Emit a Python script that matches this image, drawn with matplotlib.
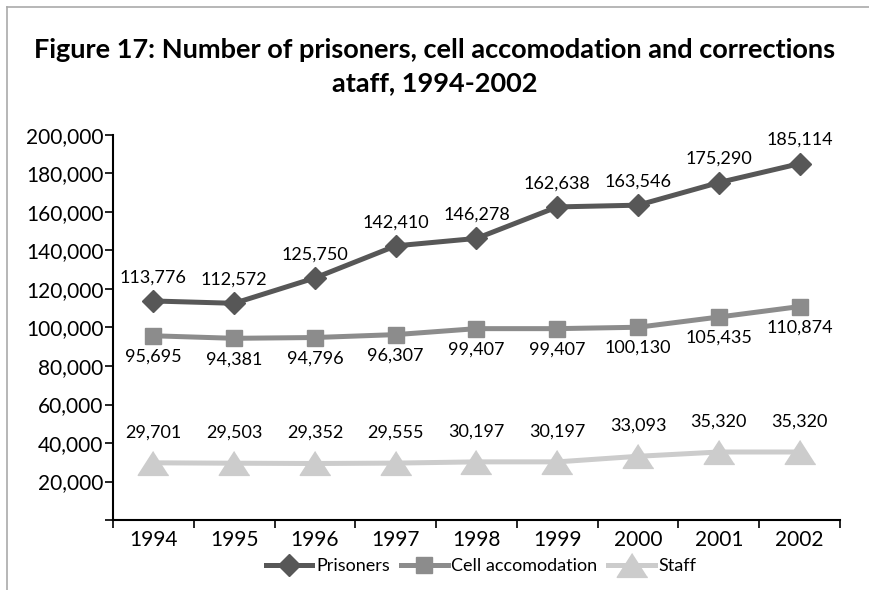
import numpy as np
import matplotlib
matplotlib.use("Agg")
import matplotlib.pyplot as plt
from matplotlib.lines import Line2D
from matplotlib.ticker import FuncFormatter, FixedLocator

plt.rcParams['font.family'] = ['Lato', 'DejaVu Sans']

# --- data ---
years = ["1994", "1995", "1996", "1997", "1998", "1999", "2000", "2001", "2002"]
prisoners = [113776, 112572, 125750, 142410, 146278, 162638, 163546, 175290, 185114]
cells = [95695, 94381, 94796, 96307, 99407, 99407, 100130, 105435, 110874]
staff = [29701, 29503, 29352, 29555, 30197, 30197, 33093, 35320, 35320]

c_pris = "#575757"
c_cell = "#8c8c8c"
c_staff = "#cccccc"
tri = [(0, 0.78), (-1, -0.78), (1, -0.78)]

fig = plt.figure(figsize=(8.7, 5.9), dpi=100)
ax = fig.add_axes([113 / 870, 70 / 590, 727 / 870, 385 / 590])

x = np.arange(len(years))
ax.plot(x, staff, color=c_staff, lw=3.6, marker=tri, ms=22, zorder=2)
ax.plot(x, cells, color=c_cell, lw=3.6, marker='s', ms=12, zorder=3)
ax.plot(x, prisoners, color=c_pris, lw=3.6, marker='D', ms=11, zorder=4)

# --- value labels ---
for i in x:
    ax.annotate(f"{prisoners[i]:,}", (i, prisoners[i]), xytext=(0, 17),
                textcoords="offset points", ha="center", va="center", fontsize=13)
    ax.annotate(f"{cells[i]:,}", (i, cells[i]), xytext=(0, -15),
                textcoords="offset points", ha="center", va="center", fontsize=13)
    ax.annotate(f"{staff[i]:,}", (i, staff[i]), xytext=(0, 22),
                textcoords="offset points", ha="center", va="center", fontsize=13)

ax.set_xlim(-0.5, len(years) - 0.5)
ax.set_ylim(0, 200000)
ax.set_yticks(np.arange(0, 200001, 20000))
ax.yaxis.set_major_formatter(FuncFormatter(lambda v, p: f"{int(v):,}" if v > 0 else ""))
ax.set_xticks(x)
ax.set_xticklabels(years)
ax.xaxis.set_minor_locator(FixedLocator(np.arange(-0.5, len(years), 1)))
ax.tick_params(axis='x', which='major', length=0, labelsize=15, pad=7)
ax.tick_params(axis='x', which='minor', length=6, width=1.2, direction='out')
ax.tick_params(axis='y', length=6, width=1.2, labelsize=15, pad=1)
for s in ["top", "right"]:
    ax.spines[s].set_visible(False)
for s in ["left", "bottom"]:
    ax.spines[s].set_linewidth(1.5)

fig.text(0.5, 1 - 50 / 590, "Figure 17: Number of prisoners, cell accomodation and corrections",
         ha="center", va="center", fontsize=19.5, fontweight="bold")
fig.text(0.5, 1 - 83 / 590, "ataff, 1994-2002",
         ha="center", va="center", fontsize=19.5, fontweight="bold")

handles = [
    Line2D([], [], color=c_pris, lw=3.6, marker='D', ms=11),
    Line2D([], [], color=c_cell, lw=3.6, marker='s', ms=12),
    Line2D([], [], color=c_staff, lw=3.6, marker=tri, ms=22),
]
fig.legend(handles, ["Prisoners", "Cell accomodation", "Staff"], loc="center",
           bbox_to_anchor=(0.553, 1 - 566 / 590), ncol=3, frameon=False, fontsize=13,
           handlelength=2.6, handletextpad=0.2, columnspacing=0.6)

# border lines (left and top)
fig.add_artist(Line2D([7 / 870, 7 / 870], [0, 1 - 7 / 590], color="#aaaaaa", lw=1.2))
fig.add_artist(Line2D([7 / 870, 1], [1 - 7 / 590, 1 - 7 / 590], color="#aaaaaa", lw=1.2))

fig.savefig("out.png", dpi=100)
